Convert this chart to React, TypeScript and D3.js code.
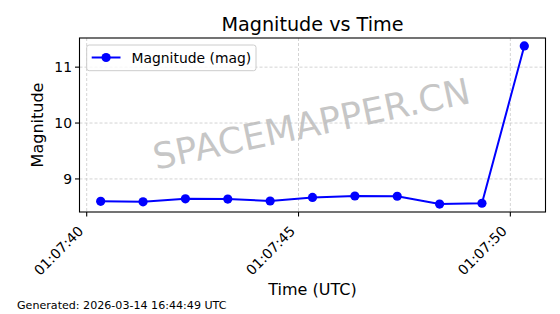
import React from "react";
import * as d3 from "d3";

const times: string[] = [
  "2026-03-14T01:07:40.330Z",
  "2026-03-14T01:07:41.330Z",
  "2026-03-14T01:07:42.330Z",
  "2026-03-14T01:07:43.330Z",
  "2026-03-14T01:07:44.330Z",
  "2026-03-14T01:07:45.330Z",
  "2026-03-14T01:07:46.330Z",
  "2026-03-14T01:07:47.330Z",
  "2026-03-14T01:07:48.330Z",
  "2026-03-14T01:07:49.330Z",
  "2026-03-14T01:07:50.330Z",
];
const magnitudes: number[] = [8.6, 8.59, 8.645, 8.64, 8.605, 8.67, 8.695, 8.69, 8.55, 8.565, 11.38];
const xTickValues: string[] = ["2026-03-14T01:07:40Z", "2026-03-14T01:07:45Z", "2026-03-14T01:07:50Z"];
const yTickValues: number[] = [9, 10, 11];
const seriesName = "Magnitude (mag)";
const title = "Magnitude vs Time";
const xLabel = "Time (UTC)";
const yLabel = "Magnitude";
const footer = "Generated: 2026-03-14 16:44:49 UTC";
const watermark = "SPACEMAPPER.CN";

const W = 560;
const H = 314;
const FONT = "'DejaVu Sans', sans-serif";

export default function App() {
  const left = 79.5, right = 545.5, top = 38, bottom = 212;
  const dates = times.map((t) => new Date(t));
  const t0 = +dates[0], t1 = +dates[dates.length - 1];
  const xm = (t1 - t0) * 0.05;
  const x = d3.scaleUtc().domain([new Date(t0 - xm), new Date(t1 + xm)]).range([left, right]);
  const [ymin, ymax] = d3.extent(magnitudes) as [number, number];
  const ym = (ymax - ymin) * 0.05;
  const y = d3.scaleLinear().domain([ymin - ym, ymax + ym]).range([bottom, top]);
  const fmt = d3.utcFormat("%H:%M:%S");
  const line = d3
    .line<number>()
    .x((_, i) => x(dates[i]))
    .y((d) => y(d));
  const blue = "#0000ff";
  const grid = "#c8c8c8";
  const cx = (left + right) / 2;

  return (
    <svg width={W} height={H} style={{ position: "absolute", left: 0, top: 0, background: "#fff" }} fontFamily={FONT}>
      <rect x={0} y={0} width={W} height={H} fill="#fff" />
      {/* grid */}
      {xTickValues.map((t) => (
        <line key={t} x1={x(new Date(t))} x2={x(new Date(t))} y1={top} y2={bottom} stroke={grid} strokeWidth={0.8} strokeDasharray="3,2" />
      ))}
      {yTickValues.map((v) => (
        <line key={v} x1={left} x2={right} y1={y(v)} y2={y(v)} stroke={grid} strokeWidth={0.8} strokeDasharray="3,2" />
      ))}
      {/* watermark */}
      <text
        x={311.5}
        y={124}
        transform={`rotate(-12 311.5 124)`}
        textAnchor="middle"
        dominantBaseline="central"
        fontSize={36}
        fill="#b4b4b4"
        fillOpacity={0.75}
      >
        {watermark}
      </text>
      {/* series */}
      <path d={line(magnitudes) || ""} fill="none" stroke={blue} strokeWidth={2} />
      {magnitudes.map((m, i) => (
        <circle key={i} cx={x(dates[i])} cy={y(m)} r={4.6} fill={blue} />
      ))}
      {/* spines */}
      <rect x={left} y={top} width={right - left} height={bottom - top} fill="none" stroke="#000" strokeWidth={1.1} />
      {/* x ticks */}
      {xTickValues.map((t) => {
        const px = x(new Date(t));
        const bx = px - 2.5;
        const by = 232;
        return (
          <g key={t}>
            <line x1={px} x2={px} y1={bottom} y2={bottom + 4.5} stroke="#000" strokeWidth={1.1} />
            <text x={bx} y={by} transform={`rotate(-45 ${bx} ${by})`} textAnchor="end" fontSize={13.9} fill="#000">
              {fmt(new Date(t))}
            </text>
          </g>
        );
      })}
      {/* y ticks */}
      {yTickValues.map((v) => (
        <g key={v}>
          <line x1={left - 4.5} x2={left} y1={y(v)} y2={y(v)} stroke="#000" strokeWidth={1.1} />
          <text x={left - 7.5} y={y(v)} textAnchor="end" dominantBaseline="central" fontSize={13.9} fill="#000">
            {v}
          </text>
        </g>
      ))}
      {/* legend */}
      <rect x={86.7} y={45} width={169.3} height={25.7} rx={2.5} fill="#fff" fillOpacity={0.8} stroke="#cccccc" strokeWidth={1} />
      <line x1={91.7} x2={120.5} y1={57.5} y2={57.5} stroke={blue} strokeWidth={2} />
      <circle cx={106.1} cy={57.5} r={4.6} fill={blue} />
      <text x={131.5} y={57.5} dominantBaseline="central" fontSize={13.9} fill="#000">
        {seriesName}
      </text>
      {/* title & labels */}
      <text x={cx} y={30.5} textAnchor="middle" fontSize={19.2} fill="#000">
        {title}
      </text>
      <text x={cx} y={295} textAnchor="middle" fontSize={16} fill="#000">
        {xLabel}
      </text>
      <text
        x={0}
        y={0}
        transform={`translate(43 ${(top + bottom) / 2}) rotate(-90)`}
        textAnchor="middle"
        fontSize={16}
        fill="#000"
      >
        {yLabel}
      </text>
      <text x={17} y={309} fontSize={11.1} fill="#000">
        {footer}
      </text>
    </svg>
  );
}
